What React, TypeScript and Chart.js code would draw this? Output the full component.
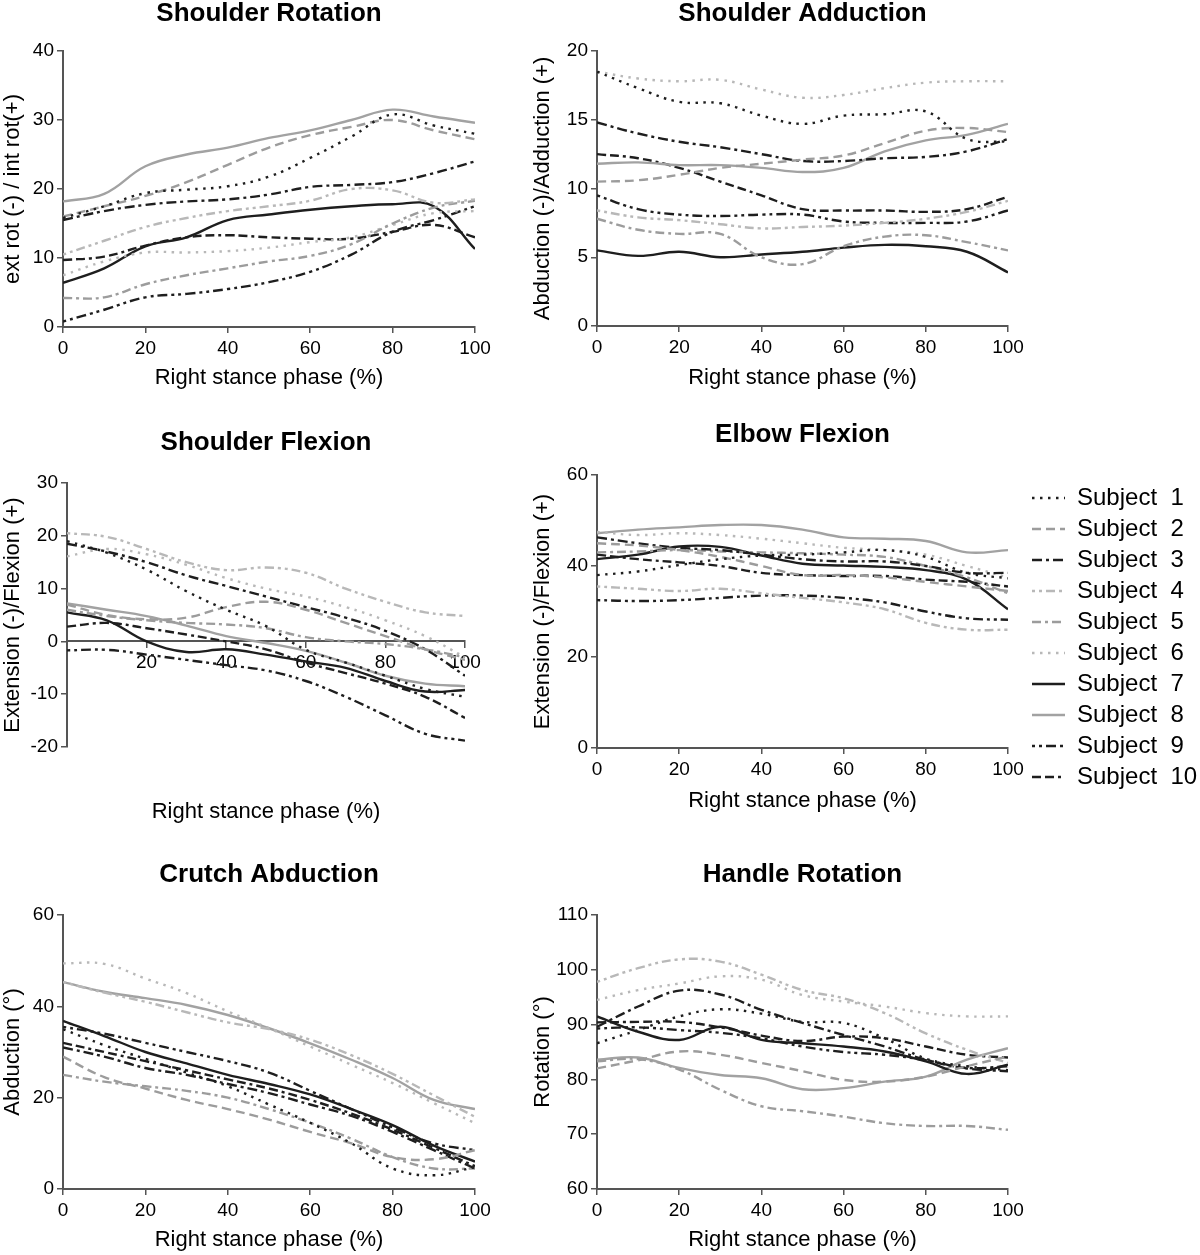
import React, { useEffect, useRef } from "react";
import { Chart, registerables } from "chart.js";

Chart.register(...registerables);
Chart.defaults.font.family = "'Liberation Sans', Arial, sans-serif";

// ---------- data ----------
const PHASE = [0, 10, 20, 30, 40, 50, 60, 70, 80, 90, 100];
const X_TICKS = [0, 20, 40, 60, 80, 100];
const SUBJECTS = [
  "Subject  1", "Subject  2", "Subject  3", "Subject  4", "Subject  5",
  "Subject  6", "Subject  7", "Subject  8", "Subject  9", "Subject  10",
];

// one row per subject (1..10), values at PHASE
const shoulderRotation = [
  [15.8, 17.5, 19.4, 19.9, 20.4, 21.8, 24.5, 27.6, 30.8, 29.2, 28.0],
  [16.0, 17.5, 19.0, 21.0, 23.5, 26.0, 27.8, 29.0, 30.0, 28.5, 27.2],
  [15.5, 16.8, 17.7, 18.2, 18.5, 19.2, 20.3, 20.6, 21.0, 22.3, 24.0],
  [10.5, 12.5, 14.5, 15.8, 16.8, 17.5, 18.3, 20.0, 19.8, 18.0, 18.5],
  [4.2, 4.3, 6.2, 7.5, 8.5, 9.5, 10.3, 12.0, 15.0, 17.3, 18.3],
  [7.5, 9.5, 10.8, 10.8, 11.0, 11.5, 12.3, 13.0, 14.8, 16.5, 16.8],
  [6.4, 8.5, 11.7, 13.0, 15.5, 16.3, 17.0, 17.5, 17.8, 17.5, 11.3],
  [18.2, 19.3, 23.3, 25.0, 26.0, 27.4, 28.5, 30.0, 31.5, 30.5, 29.6],
  [0.8, 2.5, 4.3, 4.8, 5.5, 6.5, 8.0, 10.5, 13.8, 15.5, 17.5],
  [9.7, 10.2, 11.8, 13.0, 13.3, 13.0, 12.8, 12.8, 13.8, 14.8, 13.0],
];

const shoulderAdduction = [
  [18.5, 17.3, 16.3, 16.2, 15.3, 14.7, 15.3, 15.4, 15.6, 13.6, 13.4],
  [10.5, 10.6, 11.0, 11.5, 11.8, 12.1, 12.4, 13.3, 14.2, 14.4, 14.1],
  [14.8, 14.0, 13.4, 13.0, 12.5, 12.0, 12.0, 12.2, 12.3, 12.7, 13.6],
  [8.4, 7.9, 7.7, 7.4, 7.1, 7.2, 7.3, 7.5, 7.8, 8.3, 9.1],
  [7.8, 7.0, 6.7, 6.7, 5.0, 4.5, 5.8, 6.5, 6.6, 6.1, 5.5],
  [18.5, 18.0, 17.8, 17.9, 17.2, 16.6, 16.8, 17.3, 17.7, 17.8, 17.8],
  [5.5, 5.1, 5.4, 5.0, 5.2, 5.4, 5.7, 5.9, 5.8, 5.4, 3.9],
  [11.8, 11.9, 11.7, 11.7, 11.5, 11.2, 11.5, 12.7, 13.5, 13.9, 14.7],
  [9.5, 8.5, 8.1, 8.0, 8.1, 8.1, 7.6, 7.5, 7.5, 7.6, 8.4],
  [12.5, 12.2, 11.5, 10.5, 9.5, 8.5, 8.4, 8.4, 8.3, 8.5, 9.4],
];

const shoulderFlexion = [
  [19.0, 16.8, 13.6, 9.5, 6.0, 2.9, -1.6, -4.0, -6.5, -9.0, -10.5],
  [7.0, 5.0, 4.2, 4.5, 6.5, 7.5, 6.0, 3.5, 1.0, -1.5, -3.5],
  [18.5, 17.0, 15.0, 12.5, 10.5, 8.5, 6.5, 4.5, 2.0, -1.5, -6.5],
  [20.5, 19.8, 17.5, 15.0, 13.5, 14.0, 13.0, 10.0, 7.5, 5.5, 4.8],
  [6.0, 4.8, 4.0, 3.5, 3.2, 2.5, 0.8, 0.0, -0.5, -1.5, -3.0],
  [16.1, 17.5, 16.5, 14.5, 12.0, 10.0, 8.5, 6.5, 4.0, 1.0, -3.0],
  [5.5, 4.0, 0.0, -2.0, -1.5, -2.5, -3.8, -5.0, -7.5, -9.5, -9.2],
  [7.2, 6.0, 4.8, 3.0, 1.0, -0.3, -1.8, -4.0, -6.5, -8.0, -8.5],
  [-1.7, -1.6, -2.5, -3.5, -4.5, -5.5, -7.5, -10.5, -14.0, -17.5, -18.8],
  [2.8, 3.5, 2.5, 1.3, 0.0, -1.5, -4.0, -6.0, -8.0, -10.5, -14.5],
];

const elbowFlexion = [
  [38.0, 38.8, 40.2, 41.5, 42.3, 42.5, 43.0, 43.5, 42.0, 38.5, 37.3],
  [45.0, 44.5, 43.5, 42.0, 40.0, 38.0, 38.0, 37.5, 36.5, 35.5, 34.5],
  [46.3, 45.0, 44.0, 43.5, 42.5, 41.5, 41.0, 41.0, 40.0, 38.5, 38.5],
  [35.5, 35.0, 34.5, 35.0, 34.0, 33.0, 32.0, 30.5, 27.5, 26.0, 26.0],
  [43.0, 43.2, 43.5, 43.2, 43.0, 42.8, 42.5, 42.0, 40.0, 37.5, 34.0],
  [47.5, 46.8, 47.2, 46.8, 46.0, 45.0, 44.0, 43.5, 42.5, 40.0, 37.5],
  [41.5, 42.5, 44.3, 44.2, 42.3, 40.5, 40.1, 39.8, 39.1, 37.0, 30.5],
  [47.2, 48.0, 48.5, 49.0, 49.0, 48.0, 46.3, 46.0, 45.5, 43.0, 43.5],
  [32.5, 32.3, 32.5, 33.0, 33.5, 33.5, 33.0, 32.0, 30.0, 28.5, 28.2],
  [42.5, 41.5, 40.8, 40.0, 38.5, 38.0, 37.8, 37.8, 37.0, 36.5, 35.5],
];

const crutchAbduction = [
  [35.0, 31.5, 28.5, 25.5, 22.5, 18.5, 14.5, 10.0, 4.5, 3.0, 4.8],
  [29.0, 24.5, 22.0, 19.5, 17.5, 15.2, 12.5, 10.0, 7.0, 6.5, 8.5],
  [31.0, 29.0, 26.5, 25.0, 23.0, 21.0, 18.5, 16.0, 12.5, 8.5, 4.5],
  [45.3, 43.0, 41.0, 38.7, 36.5, 35.0, 32.7, 29.3, 25.2, 20.5, 15.8],
  [25.0, 23.5, 22.5, 21.5, 20.0, 17.5, 14.5, 11.0, 7.0, 4.5, 4.5],
  [49.4, 49.3, 46.1, 42.9, 38.9, 35.2, 31.2, 27.2, 23.2, 18.8, 14.4],
  [36.8, 33.5, 30.0, 27.5, 25.0, 23.0, 20.7, 17.5, 14.0, 9.5, 6.0],
  [45.3, 43.2, 41.8, 40.3, 38.1, 35.2, 31.9, 28.3, 24.3, 19.5, 17.5],
  [35.5, 34.0, 32.0, 30.0, 28.0, 25.5, 21.5, 17.5, 13.5, 10.0, 8.5],
  [32.0, 30.0, 28.0, 26.0, 24.0, 22.0, 19.5, 16.5, 13.0, 9.0, 5.0],
];

const handleRotation = [
  [86.6, 89.0, 91.5, 92.8, 92.0, 90.5, 90.3, 87.5, 83.8, 82.4, 81.7],
  [82.0, 83.5, 85.1, 84.5, 83.0, 81.5, 79.9, 79.6, 80.5, 82.4, 84.2],
  [89.6, 93.3, 96.2, 95.5, 92.7, 90.3, 88.1, 86.0, 83.6, 82.1, 82.4],
  [97.8, 100.3, 101.9, 101.5, 99.1, 96.3, 94.8, 92.1, 88.4, 85.4, 83.0],
  [83.3, 83.7, 81.8, 78.1, 75.1, 74.2, 73.2, 72.0, 71.5, 71.5, 70.8],
  [94.5, 96.3, 97.5, 98.8, 98.2, 95.4, 94.2, 93.3, 92.1, 91.5, 91.5],
  [91.5, 88.7, 87.2, 89.6, 87.2, 86.6, 86.0, 85.1, 83.3, 81.0, 82.7],
  [83.6, 84.0, 82.1, 80.8, 80.2, 78.2, 78.4, 79.6, 80.5, 83.6, 85.7],
  [89.3, 89.5, 89.0, 88.5, 87.5, 86.0, 85.0, 84.5, 83.5, 82.0, 81.5],
  [90.4, 90.5, 90.5, 89.5, 88.0, 87.0, 87.8, 87.5, 86.0, 84.5, 84.0],
];

// ---------- styles ----------
const BLACK = "#1e1e1e";
const GRAY = "#9c9c9c";
const LIGHT = "#b8b8b8";
const LINE_COLORS = [BLACK, GRAY, BLACK, LIGHT, GRAY, LIGHT, BLACK, "#a2a2a2", BLACK, BLACK];
const LINE_DASHES: number[][] = [
  [2.5, 5.5],
  [9, 5],
  [10, 4, 3, 4],
  [3, 4, 3, 4, 9, 4],
  [9, 4, 3, 4],
  [2.5, 5.5],
  [],
  [],
  [3, 4, 3, 4, 10, 4],
  [9, 4, 9, 4, 3, 4],
];
const LINE_WIDTH = 2.4;
const AXIS_COLOR = "#555555";
const X_TITLE = "Right stance phase (%)";

type PanelCfg = {
  title: string;
  yTitle: string;
  values: number[][];
  yMin: number;
  yMax: number;
  yStep: number;
  left: number;
  top: number;
  width: number;
  height: number;
  yAxisWidth: number;
  padRight: number;
  titleTop: number;
  titleBottom: number;
  xAxisHeight: number;
  xAtZero?: boolean;
};

const PANELS: PanelCfg[] = [
  { title: "Shoulder Rotation", yTitle: "ext rot (-) / int rot(+)", values: shoulderRotation,
    yMin: 0, yMax: 40, yStep: 10, left: 0, top: 0, width: 505, height: 391,
    yAxisWidth: 63, padRight: 30, titleTop: -1.6, titleBottom: 21.4, xAxisHeight: 64 },
  { title: "Shoulder Adduction", yTitle: "Abduction (-)/Adduction (+)", values: shoulderAdduction,
    yMin: 0, yMax: 20, yStep: 5, left: 530, top: 0, width: 508, height: 391,
    yAxisWidth: 67, padRight: 30, titleTop: -1.6, titleBottom: 21.4, xAxisHeight: 65 },
  { title: "Shoulder Flexion", yTitle: "Extension (-)/Flexion (+)", values: shoulderFlexion,
    yMin: -20, yMax: 30, yStep: 10, left: 0, top: 430, width: 495, height: 395,
    yAxisWidth: 67, padRight: 30, titleTop: -2.6, titleBottom: 24.4, xAxisHeight: 78, xAtZero: true },
  { title: "Elbow Flexion", yTitle: "Extension (-)/Flexion (+)", values: elbowFlexion,
    yMin: 0, yMax: 60, yStep: 20, left: 530, top: 422, width: 508, height: 392,
    yAxisWidth: 67, padRight: 30, titleTop: -2.6, titleBottom: 24.4, xAxisHeight: 66 },
  { title: "Crutch Abduction", yTitle: "Abduction (°)", values: crutchAbduction,
    yMin: 0, yMax: 60, yStep: 20, left: 0, top: 862, width: 505, height: 391,
    yAxisWidth: 63, padRight: 30, titleTop: -2.6, titleBottom: 24.4, xAxisHeight: 64 },
  { title: "Handle Rotation", yTitle: "Rotation (°)", values: handleRotation,
    yMin: 60, yMax: 110, yStep: 10, left: 530, top: 862, width: 508, height: 391,
    yAxisWidth: 67, padRight: 30, titleTop: -2.6, titleBottom: 24.4, xAxisHeight: 64 },
];

const tickFont = { size: 19 };
const titleFont = { size: 22 };

function makeDatasets(values: number[][] | null) {
  return SUBJECTS.map((label, i) => ({
    label,
    data: values ? PHASE.map((x, j) => ({ x, y: values[i][j] })) : [],
    borderColor: LINE_COLORS[i],
    backgroundColor: LINE_COLORS[i],
    borderDash: LINE_DASHES[i],
    borderWidth: LINE_WIDTH,
    borderCapStyle: "butt" as const,
    pointRadius: 0,
    pointHoverRadius: 0,
    tension: 0.4,
    fill: false,
  }));
}

function Panel({ cfg }: { cfg: PanelCfg }) {
  const ref = useRef<HTMLCanvasElement | null>(null);
  useEffect(() => {
    const scales: any = {
      x: {
        type: "linear",
        min: 0,
        max: 100,
        position: cfg.xAtZero ? { y: 0 } : "bottom",
        afterBuildTicks: (s: any) => {
          s.ticks = X_TICKS.map((v) => ({ value: v }));
        },
        ticks: {
          font: tickFont,
          color: "#000",
          padding: 4,
          maxRotation: 0,
          callback: (v: any) => (cfg.xAtZero && v === 0 ? "" : String(v)),
        },
        grid: { drawOnChartArea: false, drawTicks: true, tickLength: 6, color: AXIS_COLOR, lineWidth: 1.5 },
        border: { color: AXIS_COLOR, width: 2 },
        title: cfg.xAtZero
          ? { display: false }
          : { display: true, text: X_TITLE, font: titleFont, color: "#000", padding: { top: 0, bottom: 0 } },
        afterFit: cfg.xAtZero ? undefined : (s: any) => { s.height = cfg.xAxisHeight; },
      },
      y: {
        type: "linear",
        min: cfg.yMin,
        max: cfg.yMax,
        ticks: { stepSize: cfg.yStep, font: tickFont, color: "#000", padding: 3 },
        grid: { drawOnChartArea: false, drawTicks: true, tickLength: 6, color: AXIS_COLOR, lineWidth: 1.5 },
        border: { color: AXIS_COLOR, width: 2 },
        title: { display: true, text: cfg.yTitle, font: titleFont, color: "#000", padding: { top: 0, bottom: 0 } },
        afterFit: (s: any) => { s.width = cfg.yAxisWidth; },
      },
    };
    if (cfg.xAtZero) {
      scales.x2 = {
        type: "linear",
        position: "bottom",
        min: 0,
        max: 100,
        display: true,
        ticks: { display: false },
        grid: { display: false },
        border: { display: false },
        title: { display: true, text: X_TITLE, font: titleFont, color: "#000", padding: { top: 0, bottom: 0 } },
        afterFit: (s: any) => { s.height = cfg.xAxisHeight; },
      };
    }
    const chart = new Chart(ref.current as HTMLCanvasElement, {
      type: "line",
      data: { datasets: makeDatasets(cfg.values) as any },
      options: {
        responsive: false,
        animation: false,
        events: [],
        layout: { padding: { left: 0, top: 0, right: cfg.padRight, bottom: 0 } },
        scales,
        plugins: {
          legend: { display: false },
          tooltip: { enabled: false },
          title: {
            display: true,
            fullSize: false,
            text: cfg.title,
            color: "#000",
            font: { size: 26, weight: "bold" },
            padding: { top: cfg.titleTop, bottom: cfg.titleBottom },
          },
        },
      } as any,
    });
    return () => chart.destroy();
  }, [cfg]);
  return (
    <canvas
      ref={ref}
      width={cfg.width}
      height={cfg.height}
      style={{ position: "absolute", left: cfg.left, top: cfg.top, width: cfg.width, height: cfg.height }}
    />
  );
}

function Legend() {
  const ref = useRef<HTMLCanvasElement | null>(null);
  useEffect(() => {
    const chart = new Chart(ref.current as HTMLCanvasElement, {
      type: "line",
      data: { datasets: makeDatasets(null) as any },
      options: {
        responsive: false,
        animation: false,
        events: [],
        layout: { padding: 0 },
        scales: { x: { display: false }, y: { display: false } },
        plugins: {
          tooltip: { enabled: false },
          title: { display: false },
          legend: {
            display: true,
            position: "top",
            align: "start",
            maxHeight: 340,
            labels: {
              usePointStyle: true,
              pointStyle: "line",
              pointStyleWidth: 33,
              font: { size: 24 },
              color: "#000",
              padding: 7,
              generateLabels: (c: any) =>
                c.data.datasets.map((ds: any, i: number) => ({
                  text: ds.label,
                  fillStyle: LINE_COLORS[i],
                  strokeStyle: LINE_COLORS[i],
                  lineWidth: 2.6,
                  lineDash: LINE_DASHES[i],
                  lineCap: "butt",
                  pointStyle: "line",
                  hidden: false,
                  datasetIndex: i,
                  fontColor: "#000",
                })),
            },
          },
        },
      } as any,
    });
    return () => chart.destroy();
  }, []);
  return (
    <canvas
      ref={ref}
      width={175}
      height={340}
      style={{ position: "absolute", left: 1025, top: 479, width: 175, height: 340 }}
    />
  );
}

export default function App() {
  return (
    <div style={{ position: "absolute", left: 0, top: 0, width: 1200, height: 1255, background: "#fff" }}>
      {PANELS.map((p) => (
        <Panel key={p.title} cfg={p} />
      ))}
      <Legend />
    </div>
  );
}
